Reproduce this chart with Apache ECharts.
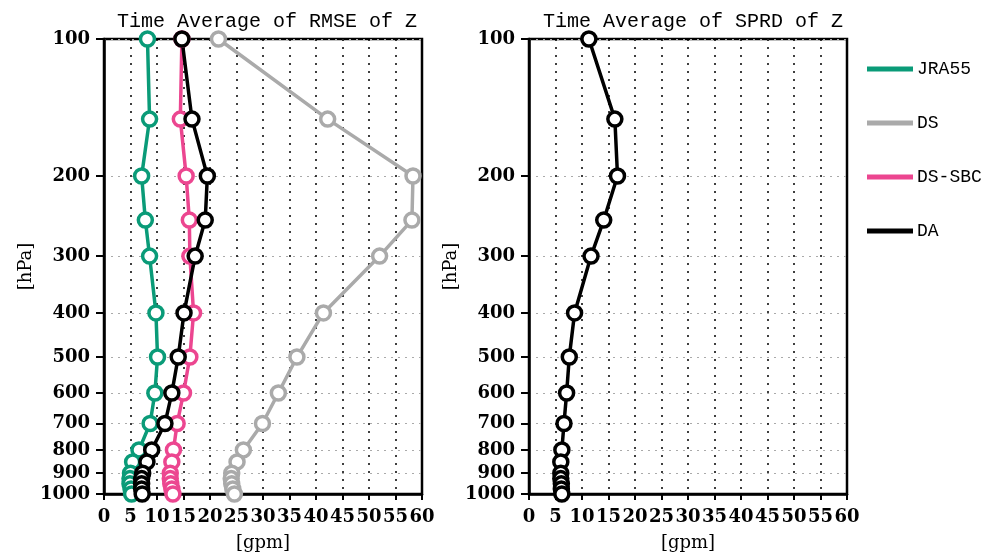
<!DOCTYPE html>
<html lang="en">
<head>
<meta charset="UTF-8">
<title>Time Average of RMSE / SPRD of Z</title>
<script src="https://cdn.jsdelivr.net/npm/echarts@6.0.0/dist/echarts.min.js"></script>
<style>
  body { margin: 0; padding: 0; background: #fff; }
  #chart { width: 984px; height: 557px; }
</style>
</head>
<body>
<div id="chart"></div>
<script>
  // pressure levels [hPa]
  var levels = [100, 150, 200, 250, 300, 400, 500, 600, 700, 800, 850, 900, 925, 950, 975, 1000];
  var yTicks = [100, 200, 300, 400, 500, 600, 700, 800, 900, 1000];

  // RMSE [gpm]
  var jra55 = [8.2, 8.6, 7.1, 7.8, 8.6, 9.8, 10.1, 9.6, 8.7, 6.6, 5.4, 5.0, 4.9, 4.9, 5.1, 5.2];
  var ds = [21.6, 42.2, 58.3, 58.1, 52.0, 41.4, 36.4, 32.9, 29.9, 26.3, 25.1, 24.1, 24.0, 24.1, 24.3, 24.6];
  var dsSbc = [14.7, 14.4, 15.5, 16.1, 16.2, 16.9, 16.2, 15.0, 13.8, 13.1, 12.8, 12.5, 12.5, 12.6, 12.8, 13.0];
  var da = [14.7, 16.6, 19.5, 19.1, 17.2, 15.1, 14.0, 12.8, 11.5, 9.0, 8.1, 7.3, 7.1, 7.1, 7.1, 7.2];

  // SPRD [gpm]
  var daSprd = [11.3, 16.2, 16.7, 14.1, 11.7, 8.6, 7.6, 7.1, 6.6, 6.2, 6.0, 6.0, 6.0, 6.1, 6.1, 6.2];

  var chart = echarts.init(document.getElementById('chart'));

  var labelFont = { fontFamily: 'DejaVu Serif', fontWeight: 'bold', fontSize: 18, color: '#000' };
  var nameFont = { fontFamily: 'DejaVu Serif', fontSize: 18, color: '#000' };

  function pairs(vals) {
    return vals.map(function (v, i) { return [v, levels[i]]; });
  }

  function xAxis(idx) {
    return {
      type: 'value', gridIndex: idx, min: 0, max: 60, interval: 5,
      name: '[gpm]', nameLocation: 'middle', nameGap: 40, nameTextStyle: nameFont,
      axisLine: { lineStyle: { color: '#000', width: 2.5 } },
      axisTick: { inside: false, length: 6, lineStyle: { color: '#000', width: 2 } },
      axisLabel: Object.assign({ margin: 14, interval: 0 }, labelFont),
      splitLine: { show: true, lineStyle: { color: '#000', type: [2, 6], width: 1.5 } }
    };
  }

  function yAxis(idx) {
    return {
      type: 'log', logBase: 10, gridIndex: idx, min: 100, max: 1000, inverse: true,
      name: '[hPa]', nameLocation: 'middle', nameGap: 69, nameTextStyle: nameFont,
      axisLine: { lineStyle: { color: '#000', width: 2.5 } },
      axisTick: { length: 8, customValues: yTicks, lineStyle: { color: '#000', width: 2 } },
      axisLabel: Object.assign({
        margin: 14, customValues: yTicks,
        formatter: function (v) { return String(Math.round(v)); }
      }, labelFont),
      splitLine: { show: true, lineStyle: { color: '#aaa', type: [2, 5], width: 1.2 } }
    };
  }

  function line(name, vals, color, xi) {
    return {
      name: name, type: 'line', xAxisIndex: xi, yAxisIndex: xi,
      data: pairs(vals),
      symbol: 'circle', symbolSize: 14,
      itemStyle: { color: '#fff', borderColor: color, borderWidth: 3.5 },
      lineStyle: { color: color, width: 3.5 },
      emphasis: { disabled: true },
      animation: false
    };
  }

  var titleFont = { fontFamily: 'Liberation Mono', fontWeight: 'normal', fontSize: 20, color: '#000' };

  var option = {
    animation: false,
    title: [
      { text: 'Time Average of RMSE of Z', left: 262, top: 7, textAlign: 'center', textStyle: titleFont },
      { text: 'Time Average of SPRD of Z', left: 688, top: 7, textAlign: 'center', textStyle: titleFont }
    ],
    legend: {
      orient: 'vertical', left: 862, top: 55, itemGap: 36,
      itemWidth: 44, itemHeight: 3, icon: 'rect',
      textStyle: { fontFamily: 'Liberation Mono', fontSize: 18, color: '#000' },
      data: [
        { name: 'JRA55', itemStyle: { color: '#0a9b78' } },
        { name: 'DS', itemStyle: { color: '#aaaaaa' } },
        { name: 'DS-SBC', itemStyle: { color: '#ec4690' } },
        { name: 'DA', itemStyle: { color: '#000' } }
      ]
    },
    grid: [
      { left: 104, top: 39, width: 318, height: 455, show: true, borderColor: '#000', borderWidth: 2.5, outerBoundsMode: 'none' },
      { left: 529, top: 39, width: 318, height: 455, show: true, borderColor: '#000', borderWidth: 2.5, outerBoundsMode: 'none' }
    ],
    xAxis: [xAxis(0), xAxis(1)],
    yAxis: [yAxis(0), yAxis(1)],
    series: [
      line('JRA55', jra55, '#0a9b78', 0),
      line('DS', ds, '#aaaaaa', 0),
      line('DS-SBC', dsSbc, '#ec4690', 0),
      line('DA', da, '#000', 0),
      line('DA SPRD', daSprd, '#000', 1)
    ]
  };

  chart.setOption(option);
</script>
</body>
</html>
